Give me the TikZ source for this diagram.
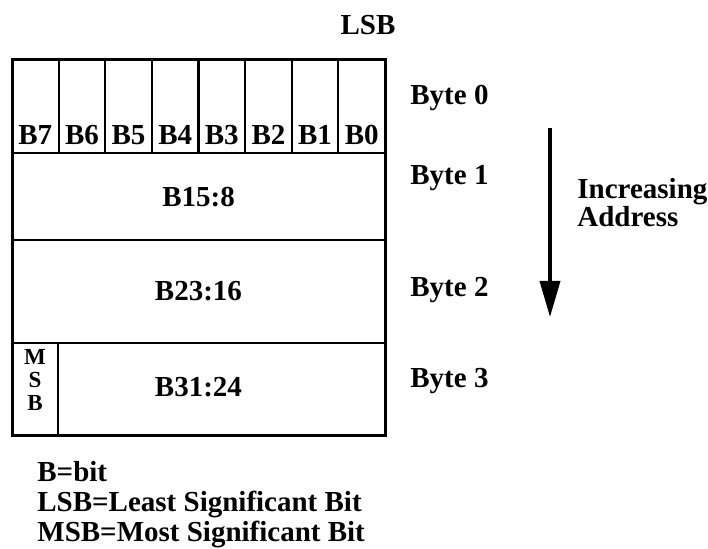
\documentclass[tikz,border=0pt]{standalone}
\usepackage{fontspec}
\setmainfont{Liberation Serif}
\usetikzlibrary{arrows.meta}

\begin{document}
\begin{tikzpicture}[x=0.5pt,y=-0.5pt, font=\fontsize{14.5}{14.5}\selectfont\bfseries,
    txt/.style={inner sep=0pt},
    frame/.style={line width=1.5pt},
    divider/.style={line width=1.1pt}]
  \useasboundingbox (0,0) rectangle (708,549);
  %% outer frame and the four byte rows
  \draw[frame] (12,60) rectangle (385,436);
  \foreach \y in {153,240,343}
    \draw[divider] (12,\y) -- (385,\y);
  %% byte 0: one cell per bit, B7 on the left
  \foreach \k in {1,...,7}
    \draw[divider] (12+46.625*\k,60) -- (12+46.625*\k,153);
  \foreach \i in {0,...,7}
    \node[txt, anchor=base] (bit\i) at (12+46.625*7.5-46.625*\i,145) {B\i};
  \node[txt, anchor=base] (lsb) at (368,35) {LSB};
  %% bytes 1 to 3
  \node[txt] (byte1bits) at (198.5,197) {B15:8};
  \node[txt] (byte2bits) at (198.5,291) {B23:16};
  \draw[divider] (58,343) -- (58,436);
  \foreach \c/\y in {M/357,S/380,B/403}
    \node[txt, font=\fontsize{11.5}{11.5}\selectfont\bfseries] (msb\c) at (35,\y) {\c};
  \node[txt] (byte3bits) at (198.5,387) {B31:24};
  %% byte numbers on the right
  \node[txt, anchor=base west] (byte0) at (410,105) {Byte 0};
  \node[txt, anchor=base west] (byte1) at (410,185) {Byte 1};
  \node[txt, anchor=base west] (byte2) at (410,297) {Byte 2};
  \node[txt, anchor=base west] (byte3) at (410,388) {Byte 3};
  %% address direction
  \coordinate (arrtop) at (550,128);
  \coordinate (arrtip) at (550,317);
  \draw[-{Triangle[width=10pt,length=18pt]}, line width=1.8pt] (arrtop) -- (arrtip);
  \node[txt, anchor=base west] (incr) at (577,199) {Increasing};
  \node[txt, anchor=base west] (addr) at (577,227) {Address};
  %% legend
  \node[txt, anchor=base west] (legb) at (37,482) {B=bit};
  \node[txt, anchor=base west] (leglsb) at (37,512) {LSB=Least Significant Bit};
  \node[txt, anchor=base west] (legmsb) at (37,542) {MSB=Most Significant Bit};
\end{tikzpicture}
\end{document}
